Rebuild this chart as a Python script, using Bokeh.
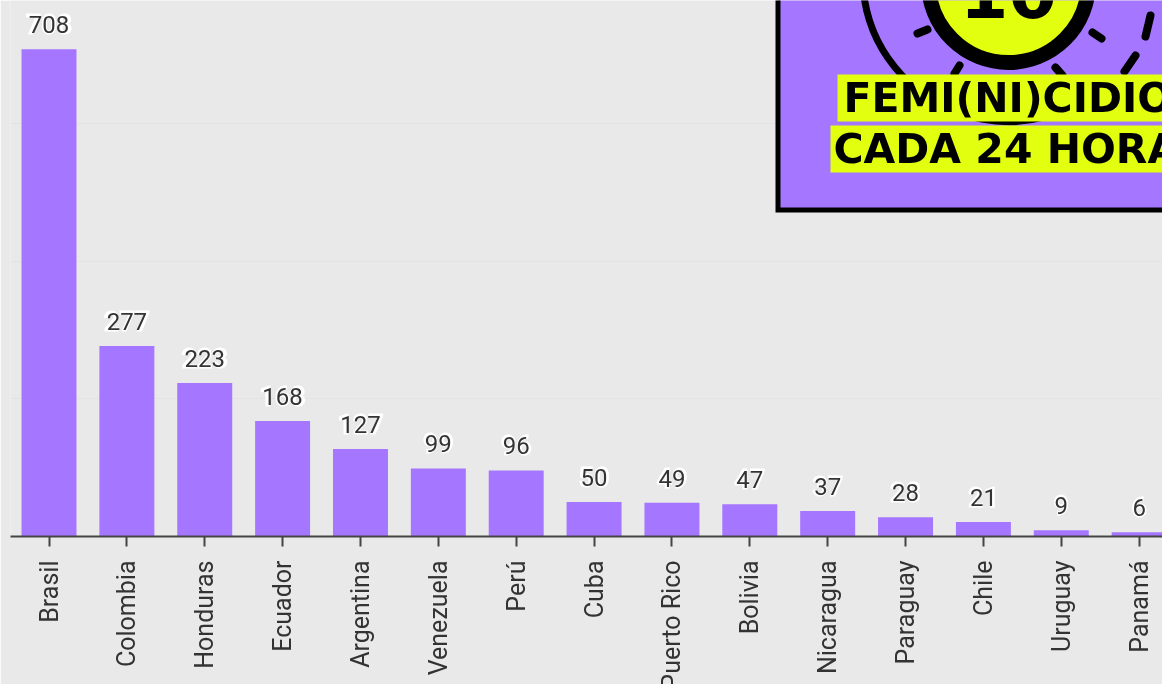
from bokeh.embed import file_html
from bokeh.resources import INLINE
from bokeh.plotting import figure
from bokeh.models import Range1d, FixedTicker, ColumnDataSource
from bokeh.core.properties import value
import math

countries = ["Brasil", "Colombia", "Honduras", "Ecuador", "Argentina", "Venezuela", "Perú", "Cuba",
             "Puerto Rico", "Bolivia", "Nicaragua", "Paraguay", "Chile", "Uruguay", "Panamá"]
femicides = [708, 277, 223, 168, 127, 99, 96, 50, 49, 47, 37, 28, 21, 9, 6]
grid_values = [200, 400, 600]

BG = "#e9e9e9"
PURPLE = "#a576ff"
YELLOW = "#e1ff0f"
INK = "#333333"

FRAME_LEFT = 10
FRAME_H = 536
X_START, X_END = -0.4945, 14.30
Y_END = 779.0
PX_PER_X = (1162 - FRAME_LEFT) / (X_END - X_START)
PX_PER_Y = FRAME_H / Y_END


def dx(px):
    return X_START + (px - FRAME_LEFT) / PX_PER_X


def dy(py):
    return (FRAME_H - py) / PX_PER_Y


p = figure(width=1162, height=684, frame_height=FRAME_H, frame_width=1162 - FRAME_LEFT,
           x_range=Range1d(X_START, X_END), y_range=Range1d(0, Y_END),
           output_backend="svg", toolbar_location=None,
           min_border_left=FRAME_LEFT, min_border_right=0, min_border_top=0, min_border_bottom=0,
           background_fill_color=BG, border_fill_color=BG, outline_line_color=None,
           styles={"position": "fixed", "left": "0px", "top": "0px"})

xs = list(range(len(countries)))
src = ColumnDataSource(dict(x=xs, y=femicides, label=[str(v) for v in femicides]))

p.vbar(x="x", top="y", bottom=0, width=0.706, fill_color=PURPLE, line_color=None, source=src)

# value labels with a soft white halo
p.text(x="x", y="y", text="label", source=src, text_align="center", text_baseline="bottom",
       y_offset=-15, text_font=value("Roboto"), text_font_size="27px", text_font_style="bold",
       text_color="white", text_outline_color="white")
p.text(x="x", y="y", text="label", source=src, text_align="center", text_baseline="bottom",
       y_offset=-16, text_font=value("Roboto"), text_font_size="24px", text_color=INK)

# axes
p.yaxis.visible = False
p.xgrid.visible = False
p.ygrid.ticker = FixedTicker(ticks=grid_values)
p.ygrid.grid_line_color = "#e3e3e3"
p.ygrid.grid_line_width = 1

ax = p.xaxis[0]
ax.ticker = FixedTicker(ticks=xs)
ax.major_label_overrides = {i: c for i, c in enumerate(countries)}
ax.major_label_orientation = math.pi / 2
ax.major_label_text_font = "Roboto"
ax.major_label_text_font_size = "25px"
ax.major_label_text_color = INK
ax.major_label_standoff = 14
ax.axis_line_color = "#444444"
ax.axis_line_width = 2
ax.major_tick_line_color = "#444444"
ax.major_tick_line_width = 2
ax.major_tick_in = 0
ax.major_tick_out = 10
ax.minor_tick_line_color = None

# inset card, drawn in pixel positions converted through the chart's scales
p.quad(left=[dx(777.5)], right=[dx(1175)], top=[dy(-10)], bottom=[dy(209.5)],
       fill_color=PURPLE, line_color="black", line_width=5, line_join="miter")

# outer ring: solid to the left, dashes on the right
p.arc(x=[dx(1008)], y=[dy(-25)], radius={"value": 146, "units": "screen"},
      start_angle=math.radians(150), end_angle=math.radians(296),
      line_color="black", line_width=7)

# sun disc
p.scatter(x=[dx(1008)], y=[dy(-18)], size=160, marker="circle",
          fill_color=YELLOW, line_color="black", line_width=15)
p.text(x=[dx(1008)], y=[dy(-8)], text=["10"], text_align="center", text_baseline="middle",
       text_font=value("DejaVu Sans"), text_font_style="bold", text_font_size="70px", text_color="black")

# rays
rays_x0 = [917, 1092, 1150, 1135, 959, 1055]
rays_y0 = [33, 32, 15, 55, 65, 67]
rays_x1 = [927, 1101, 1145, 1124, 954, 1062]
rays_y1 = [29, 38, 36, 71, 73, 75]
p.segment(x0=[dx(v) for v in rays_x0], y0=[dy(v) for v in rays_y0],
          x1=[dx(v) for v in rays_x1], y1=[dy(v) for v in rays_y1],
          line_color="black", line_width=8, line_cap="round")

# highlighted headline
p.quad(left=[dx(837)], right=[dx(1170)], top=[dy(74)], bottom=[dy(121)], fill_color=YELLOW, line_color=None)
p.quad(left=[dx(830)], right=[dx(1170)], top=[dy(125)], bottom=[dy(172)], fill_color=YELLOW, line_color=None)
p.text(x=[dx(843)], y=[dy(97)], text=["FEMI(NI)CIDIOS"], text_baseline="middle",
       text_font=value("DejaVu Sans"), text_font_style="bold", text_font_size="41px", text_color="black")
p.text(x=[dx(833)], y=[dy(148)], text=["CADA 24 HORAS"], text_baseline="middle",
       text_font=value("DejaVu Sans"), text_font_style="bold", text_font_size="41px", text_color="black")

open("out.html", "w").write(file_html(p, INLINE))
